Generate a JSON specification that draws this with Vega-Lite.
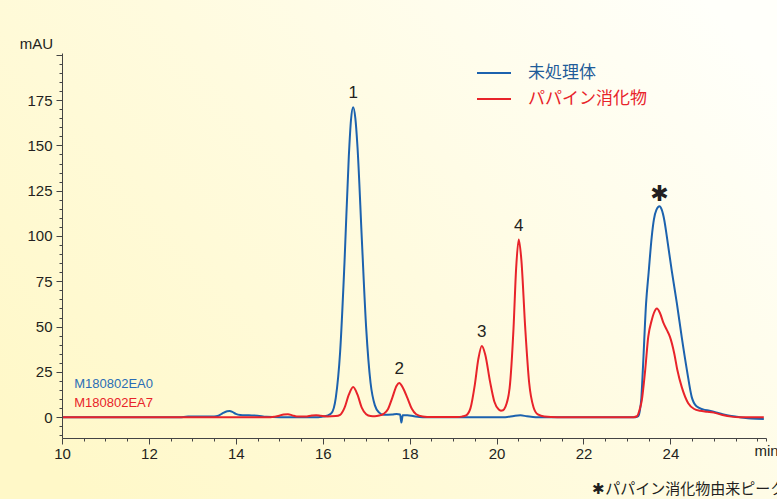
{
  "$schema": "https://vega.github.io/schema/vega-lite/v6.json",
  "width": 704,
  "height": 385,
  "autosize": {"type": "none"},
  "padding": {"left": 62, "top": 53, "right": 11, "bottom": 61},
  "background": "#fffbe0",
  "config": {"view": {"stroke": null}, "font": "Liberation Sans"},
  "resolve": {"axis": {"x": "independent", "y": "independent"}},
  "datasets": {
    "trace": [
      {"sample": "未処理体", "time": 10, "mAU": 0},
      {"sample": "未処理体", "time": 12.7, "mAU": 0},
      {"sample": "未処理体", "time": 12.9, "mAU": 0.3},
      {"sample": "未処理体", "time": 13.5, "mAU": 0.3},
      {"sample": "未処理体", "time": 13.6, "mAU": 0.8},
      {"sample": "未処理体", "time": 13.7, "mAU": 2.2},
      {"sample": "未処理体", "time": 13.8, "mAU": 3.3},
      {"sample": "未処理体", "time": 13.86, "mAU": 3.4},
      {"sample": "未処理体", "time": 13.92, "mAU": 2.9},
      {"sample": "未処理体", "time": 14.0, "mAU": 1.8},
      {"sample": "未処理体", "time": 14.1, "mAU": 1.2},
      {"sample": "未処理体", "time": 14.3, "mAU": 1.0},
      {"sample": "未処理体", "time": 14.5, "mAU": 0.8},
      {"sample": "未処理体", "time": 14.7, "mAU": 0.2},
      {"sample": "未処理体", "time": 15.0, "mAU": 0},
      {"sample": "未処理体", "time": 15.9, "mAU": 0},
      {"sample": "未処理体", "time": 16.0, "mAU": 0.3},
      {"sample": "未処理体", "time": 16.1, "mAU": 0.8},
      {"sample": "未処理体", "time": 16.2, "mAU": 2.2},
      {"sample": "未処理体", "time": 16.3, "mAU": 10.7},
      {"sample": "未処理体", "time": 16.4, "mAU": 36},
      {"sample": "未処理体", "time": 16.5, "mAU": 85},
      {"sample": "未処理体", "time": 16.6, "mAU": 144},
      {"sample": "未処理体", "time": 16.65, "mAU": 164},
      {"sample": "未処理体", "time": 16.7, "mAU": 171},
      {"sample": "未処理体", "time": 16.75, "mAU": 165},
      {"sample": "未処理体", "time": 16.8, "mAU": 149},
      {"sample": "未処理体", "time": 16.9, "mAU": 98},
      {"sample": "未処理体", "time": 17.0, "mAU": 49},
      {"sample": "未処理体", "time": 17.1, "mAU": 19},
      {"sample": "未処理体", "time": 17.2, "mAU": 6.5},
      {"sample": "未処理体", "time": 17.3, "mAU": 2.5},
      {"sample": "未処理体", "time": 17.4, "mAU": 1.3},
      {"sample": "未処理体", "time": 17.6, "mAU": 1.5},
      {"sample": "未処理体", "time": 17.7, "mAU": 1.8},
      {"sample": "未処理体", "time": 17.78, "mAU": 1.5},
      {"sample": "未処理体", "time": 17.81, "mAU": -3},
      {"sample": "未処理体", "time": 17.84, "mAU": 1.0},
      {"sample": "未処理体", "time": 17.95, "mAU": 1.1},
      {"sample": "未処理体", "time": 18.1, "mAU": 0.5},
      {"sample": "未処理体", "time": 18.3, "mAU": 0},
      {"sample": "未処理体", "time": 20.2, "mAU": 0},
      {"sample": "未処理体", "time": 20.4, "mAU": 0.7},
      {"sample": "未処理体", "time": 20.55, "mAU": 1.0},
      {"sample": "未処理体", "time": 20.7, "mAU": 0.5},
      {"sample": "未処理体", "time": 20.9, "mAU": 0},
      {"sample": "未処理体", "time": 23.2, "mAU": 0},
      {"sample": "未処理体", "time": 23.26, "mAU": 0.5},
      {"sample": "未処理体", "time": 23.3, "mAU": 4},
      {"sample": "未処理体", "time": 23.33, "mAU": 10},
      {"sample": "未処理体", "time": 23.37, "mAU": 28},
      {"sample": "未処理体", "time": 23.44, "mAU": 62.7},
      {"sample": "未処理体", "time": 23.5, "mAU": 80},
      {"sample": "未処理体", "time": 23.57, "mAU": 99.4},
      {"sample": "未処理体", "time": 23.62, "mAU": 109},
      {"sample": "未処理体", "time": 23.68, "mAU": 114.5},
      {"sample": "未処理体", "time": 23.75, "mAU": 116.4},
      {"sample": "未処理体", "time": 23.8, "mAU": 114.5},
      {"sample": "未処理体", "time": 23.86, "mAU": 108.7},
      {"sample": "未処理体", "time": 23.92, "mAU": 99.4},
      {"sample": "未処理体", "time": 24.03, "mAU": 81},
      {"sample": "未処理体", "time": 24.15, "mAU": 62.7},
      {"sample": "未処理体", "time": 24.26, "mAU": 44.3},
      {"sample": "未処理体", "time": 24.38, "mAU": 26},
      {"sample": "未処理体", "time": 24.49, "mAU": 11.2},
      {"sample": "未処理体", "time": 24.6, "mAU": 6},
      {"sample": "未処理体", "time": 24.75, "mAU": 4.3},
      {"sample": "未処理体", "time": 24.9, "mAU": 3.5},
      {"sample": "未処理体", "time": 25.05, "mAU": 2.6},
      {"sample": "未処理体", "time": 25.2, "mAU": 1.6},
      {"sample": "未処理体", "time": 25.4, "mAU": 0.6},
      {"sample": "未処理体", "time": 25.6, "mAU": 0},
      {"sample": "未処理体", "time": 25.85, "mAU": -0.8},
      {"sample": "未処理体", "time": 26.15, "mAU": -1},
      {"sample": "パパイン消化物", "time": 10, "mAU": 0},
      {"sample": "パパイン消化物", "time": 14.8, "mAU": 0},
      {"sample": "パパイン消化物", "time": 14.9, "mAU": 0.3},
      {"sample": "パパイン消化物", "time": 15.0, "mAU": 0.8},
      {"sample": "パパイン消化物", "time": 15.1, "mAU": 1.5},
      {"sample": "パパイン消化物", "time": 15.2, "mAU": 1.6},
      {"sample": "パパイン消化物", "time": 15.3, "mAU": 1.0},
      {"sample": "パパイン消化物", "time": 15.4, "mAU": 0.4},
      {"sample": "パパイン消化物", "time": 15.6, "mAU": 0.3},
      {"sample": "パパイン消化物", "time": 15.75, "mAU": 0.9},
      {"sample": "パパイン消化物", "time": 15.85, "mAU": 1.1},
      {"sample": "パパイン消化物", "time": 15.95, "mAU": 0.8},
      {"sample": "パパイン消化物", "time": 16.1, "mAU": 0.4},
      {"sample": "パパイン消化物", "time": 16.3, "mAU": 0.6},
      {"sample": "パパイン消化物", "time": 16.4, "mAU": 1.3},
      {"sample": "パパイン消化物", "time": 16.5, "mAU": 5.1},
      {"sample": "パパイン消化物", "time": 16.6, "mAU": 12.4},
      {"sample": "パパイン消化物", "time": 16.7, "mAU": 16.7},
      {"sample": "パパイン消化物", "time": 16.8, "mAU": 12.4},
      {"sample": "パパイン消化物", "time": 16.9, "mAU": 5.1},
      {"sample": "パパイン消化物", "time": 17.0, "mAU": 1.6},
      {"sample": "パパイン消化物", "time": 17.1, "mAU": 0.6},
      {"sample": "パパイン消化物", "time": 17.2, "mAU": 0.5},
      {"sample": "パパイン消化物", "time": 17.3, "mAU": 0.9},
      {"sample": "パパイン消化物", "time": 17.4, "mAU": 1.8},
      {"sample": "パパイン消化物", "time": 17.5, "mAU": 4.4},
      {"sample": "パパイン消化物", "time": 17.6, "mAU": 10.7},
      {"sample": "パパイン消化物", "time": 17.7, "mAU": 17.4},
      {"sample": "パパイン消化物", "time": 17.76, "mAU": 18.9},
      {"sample": "パパイン消化物", "time": 17.85, "mAU": 16},
      {"sample": "パパイン消化物", "time": 17.95, "mAU": 10.5},
      {"sample": "パパイン消化物", "time": 18.05, "mAU": 4.6},
      {"sample": "パパイン消化物", "time": 18.15, "mAU": 1.6},
      {"sample": "パパイン消化物", "time": 18.3, "mAU": 0.4},
      {"sample": "パパイン消化物", "time": 18.5, "mAU": 0.1},
      {"sample": "パパイン消化物", "time": 19.1, "mAU": 0.1},
      {"sample": "パパイン消化物", "time": 19.2, "mAU": 0.3},
      {"sample": "パパイン消化物", "time": 19.3, "mAU": 1},
      {"sample": "パパイン消化物", "time": 19.4, "mAU": 5},
      {"sample": "パパイン消化物", "time": 19.5, "mAU": 18},
      {"sample": "パパイン消化物", "time": 19.58, "mAU": 32},
      {"sample": "パパイン消化物", "time": 19.66, "mAU": 39.3},
      {"sample": "パパイン消化物", "time": 19.74, "mAU": 34.5},
      {"sample": "パパイン消化物", "time": 19.85, "mAU": 19.6},
      {"sample": "パパイン消化物", "time": 19.95, "mAU": 8.5},
      {"sample": "パパイン消化物", "time": 20.05, "mAU": 4.2},
      {"sample": "パパイン消化物", "time": 20.1, "mAU": 3.6},
      {"sample": "パパイン消化物", "time": 20.15, "mAU": 3.8},
      {"sample": "パパイン消化物", "time": 20.2, "mAU": 5.5},
      {"sample": "パパイン消化物", "time": 20.3, "mAU": 16},
      {"sample": "パパイン消化物", "time": 20.39, "mAU": 49},
      {"sample": "パパイン消化物", "time": 20.45, "mAU": 82},
      {"sample": "パパイン消化物", "time": 20.51, "mAU": 98},
      {"sample": "パパイン消化物", "time": 20.57, "mAU": 87},
      {"sample": "パパイン消化物", "time": 20.66, "mAU": 49},
      {"sample": "パパイン消化物", "time": 20.75, "mAU": 19},
      {"sample": "パパイン消化物", "time": 20.85, "mAU": 5.5},
      {"sample": "パパイン消化物", "time": 20.95, "mAU": 1.5},
      {"sample": "パパイン消化物", "time": 21.1, "mAU": 0.3},
      {"sample": "パパイン消化物", "time": 21.4, "mAU": 0},
      {"sample": "パパイン消化物", "time": 23.15, "mAU": 0},
      {"sample": "パパイン消化物", "time": 23.23, "mAU": 0.5},
      {"sample": "パパイン消化物", "time": 23.29, "mAU": 4},
      {"sample": "パパイン消化物", "time": 23.34, "mAU": 9},
      {"sample": "パパイン消化物", "time": 23.42, "mAU": 26},
      {"sample": "パパイン消化物", "time": 23.49, "mAU": 44.3},
      {"sample": "パパイン消化物", "time": 23.57, "mAU": 53.5},
      {"sample": "パパイン消化物", "time": 23.62, "mAU": 57.5},
      {"sample": "パパイン消化物", "time": 23.69, "mAU": 60},
      {"sample": "パパイン消化物", "time": 23.76, "mAU": 57.5},
      {"sample": "パパイン消化物", "time": 23.84, "mAU": 52},
      {"sample": "パパイン消化物", "time": 23.92, "mAU": 48},
      {"sample": "パパイン消化物", "time": 23.99, "mAU": 44.3},
      {"sample": "パパイン消化物", "time": 24.09, "mAU": 35},
      {"sample": "パパイン消化物", "time": 24.16, "mAU": 26},
      {"sample": "パパイン消化物", "time": 24.26, "mAU": 16.7},
      {"sample": "パパイン消化物", "time": 24.41, "mAU": 7.7},
      {"sample": "パパイン消化物", "time": 24.55, "mAU": 4.5},
      {"sample": "パパイン消化物", "time": 24.68, "mAU": 3.5},
      {"sample": "パパイン消化物", "time": 24.85, "mAU": 3.0},
      {"sample": "パパイン消化物", "time": 25.0, "mAU": 2.5},
      {"sample": "パパイン消化物", "time": 25.2, "mAU": 1.2},
      {"sample": "パパイン消化物", "time": 25.4, "mAU": 0.3},
      {"sample": "パパイン消化物", "time": 25.6, "mAU": 0},
      {"sample": "パパイン消化物", "time": 26.15, "mAU": 0}
    ],
    "peaks": [
      {"label": "1", "time": 16.7, "mAU": 171},
      {"label": "2", "time": 17.76, "mAU": 18.9},
      {"label": "3", "time": 19.66, "mAU": 39.3},
      {"label": "4", "time": 20.51, "mAU": 98}
    ],
    "star": [
      {"label": "✱", "time": 23.75, "mAU": 116.4}
    ]
  },
  "layer": [
    {
      "data": {"values": [{}]},
      "mark": {"type": "rect", "fill": {"gradient": "linear", "x1": 0, "y1": 0.8, "x2": 1, "y2": 0.2, "stops": [{"offset": 0, "color": "#fff8c8"}, {"offset": 0.5, "color": "#fffbdf"}, {"offset": 1, "color": "#fffffa"}]}},
      "encoding": {
        "x": {"datum": 8.4, "type": "quantitative", "scale": {"domain": [10, 26.2], "nice": false, "zero": false}, "axis": null},
        "x2": {"datum": 26.8},
        "y": {"datum": -50, "type": "quantitative", "scale": {"domain": [-11.5, 201], "nice": false, "zero": false}, "axis": null},
        "y2": {"datum": 235}
      }
    },
    {
      "data": {"name": "trace"},
      "mark": {"type": "line", "strokeWidth": 2, "interpolate": "monotone"},
      "encoding": {
        "x": {
          "field": "time", "type": "quantitative",
          "scale": {"domain": [10, 26.2], "nice": false, "zero": false},
          "axis": {
            "orient": "bottom",
            "title": null,
            "zindex": 2,
            "values": [10,10.5,11,11.5,12,12.5,13,13.5,14,14.5,15,15.5,16,16.5,17,17.5,18,18.5,19,19.5,20,20.5,21,21.5,22,22.5,23,23.5,24,24.5,25,25.5,26,26.2],
            "labelExpr": "datum.value > 26.1 ? 'min' : (datum.value % 2 === 0 && datum.value < 26 ? format(datum.value, 'd') : '')",
            "tickSize": {"condition": {"test": "datum.value % 2 === 0 && datum.value < 26", "value": 6}, "value": 3},
            "labelOverlap": false,
            "labelFlush": false,
            "labelFontSize": 15,
            "labelColor": "#231f20",
            "labelPadding": 2,
            "domainColor": "#444444",
            "tickColor": "#444444",
            "grid": false
          }
        },
        "y": {
          "field": "mAU", "type": "quantitative",
          "scale": {"domain": [-11.5, 201], "nice": false, "zero": false},
          "axis": {
            "orient": "left",
            "title": "mAU",
            "zindex": 2,
            "titleAngle": 0,
            "titleX": -26,
            "titleY": -5,
            "titleAlign": "center",
            "titleBaseline": "alphabetic",
            "titleFontSize": 15,
            "titleFontWeight": "normal",
            "titleColor": "#231f20",
            "values": [-10,-5,0,5,10,15,20,25,30,35,40,45,50,55,60,65,70,75,80,85,90,95,100,105,110,115,120,125,130,135,140,145,150,155,160,165,170,175,180,185,190,195,200],
            "labelExpr": "(datum.value % 25 === 0 && datum.value >= 0 && datum.value <= 175) ? datum.label : ''",
            "tickSize": {"condition": {"test": "datum.value % 25 === 0", "value": 6}, "value": 3},
            "labelOverlap": false,
            "labelFlush": false,
            "labelFontSize": 15,
            "labelColor": "#231f20",
            "labelPadding": 4,
            "domainColor": "#444444",
            "tickColor": "#444444",
            "grid": false
          }
        },
        "color": {
          "field": "sample", "type": "nominal",
          "scale": {"domain": ["未処理体", "パパイン消化物"], "range": ["#1c62ae", "#e8232a"]},
          "legend": {
            "orient": "none",
            "legendX": 414,
            "legendY": 2,
            "title": null,
            "symbolType": "stroke",
            "symbolSize": 1156,
            "symbolStrokeWidth": 2,
            "labelFontSize": 17,
            "labelFont": "Noto Sans CJK JP",
            "labelOffset": 16,
            "rowPadding": 0,
            "encode": {"labels": {"update": {"fill": {"signal": "datum.value === '未処理体' ? '#1f5c99' : '#e8232a'"}}}}
          }
        }
      }
    },
    {
      "data": {"name": "peaks"},
      "mark": {"type": "text", "fontSize": 17, "baseline": "bottom", "dy": -5, "color": "#231f20"},
      "encoding": {
        "x": {"field": "time", "type": "quantitative", "axis": null},
        "y": {"field": "mAU", "type": "quantitative", "axis": null},
        "text": {"field": "label"}
      }
    },
    {
      "data": {"name": "star"},
      "mark": {"type": "text", "fontSize": 22, "font": "DejaVu Sans", "baseline": "middle", "dy": -12, "color": "#231f20"},
      "encoding": {
        "x": {"field": "time", "type": "quantitative", "axis": null},
        "y": {"field": "mAU", "type": "quantitative", "axis": null},
        "text": {"field": "label"}
      }
    },
    {
      "data": {"values": [{}]},
      "mark": {"type": "text", "fontSize": 13, "align": "left", "baseline": "middle", "color": "#2a6db5"},
      "encoding": {
        "x": {"datum": 10.28, "type": "quantitative", "axis": null},
        "y": {"datum": 18.2, "type": "quantitative", "axis": null},
        "text": {"value": "M180802EA0"}
      }
    },
    {
      "data": {"values": [{}]},
      "mark": {"type": "text", "fontSize": 13, "align": "left", "baseline": "middle", "color": "#e8232a"},
      "encoding": {
        "x": {"datum": 10.28, "type": "quantitative", "axis": null},
        "y": {"datum": 7.7, "type": "quantitative", "axis": null},
        "text": {"value": "M180802EA7"}
      }
    },
    {
      "data": {"values": [{}]},
      "mark": {"type": "text", "fontSize": 15, "font": "Noto Sans CJK JP", "align": "left", "baseline": "middle", "color": "#231f20"},
      "encoding": {
        "x": {"datum": 22.2, "type": "quantitative", "axis": null},
        "y": {"datum": -39.6, "type": "quantitative", "axis": null},
        "text": {"value": "✱パパイン消化物由来ピーク"}
      }
    }
  ]
}
